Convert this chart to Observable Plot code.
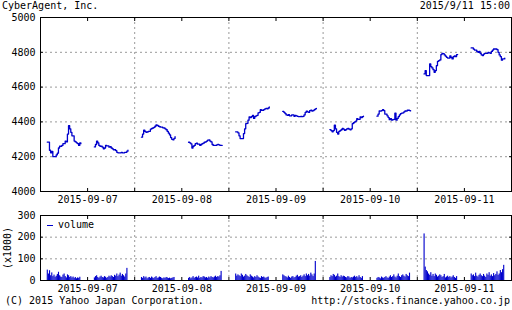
<!DOCTYPE html>
<html><head><meta charset="utf-8">
<script src="https://cdn.jsdelivr.net/npm/d3@7"></script>
<script src="https://cdn.jsdelivr.net/npm/@observablehq/plot@0.6"></script>
<style>
body{margin:0;background:#fff;}
#wrap{position:relative;width:512px;height:310px;font-family:"DejaVu Sans Mono",monospace;font-size:10px;color:#000;overflow:hidden;}
.t{position:absolute;white-space:pre;line-height:12px;}
.pl{position:absolute;left:0;}
</style></head><body>
<div id="wrap">
 <div id="p1" class="pl" style="top:0"></div>
 <div id="p2" class="pl" style="top:206px"></div>
 <div class="t" style="left:2px;top:0px">CyberAgent, Inc.</div>
 <div class="t" style="right:2px;top:0px">2015/9/11 15:00</div>
 <div class="t" style="left:47px;top:219px"><span style="display:inline-block;width:6px;height:1px;background:#0000cc;vertical-align:middle;margin-right:5px"></span>volume</div>
 <div class="t" style="left:5px;top:295px">(C) 2015 Yahoo Japan Corporation.</div>
 <div class="t" style="right:2px;top:295px">http://stocks.finance.yahoo.co.jp</div>
</div>
<script>
// ---- data ----
const dates = ["2015-09-07","2015-09-08","2015-09-09","2015-09-10","2015-09-11"];
const priceTicks = [4000,4200,4400,4600,4800,5000];
const volTicks = [0,100,200,300];
// 5-minute closes, 9:00-11:30 (am) and 12:30-15:00 (pm), 31 points each
const price0907am = [4284,4284,4237,4222,4230,4200,4200,4200,4210,4220,4250,4260,4260,4265,4275,4275,4290,4285,4330,4378,4360,4340,4320,4320,4290,4285,4280,4275,4265,4280,4275];
const price0907pm = [4256,4270,4290,4280,4265,4260,4260,4255,4245,4250,4265,4262,4262,4255,4258,4250,4245,4240,4240,4235,4225,4222,4222,4222,4225,4222,4222,4225,4225,4232,4237];
const price0908am = [4312,4330,4353,4345,4340,4342,4346,4346,4359,4362,4365,4368,4375,4383,4380,4375,4372,4370,4370,4366,4365,4360,4355,4345,4335,4325,4310,4300,4297,4305,4315];
const price0908pm = [4283,4280,4274,4250,4260,4265,4275,4278,4272,4272,4265,4270,4275,4278,4283,4285,4290,4295,4297,4290,4285,4270,4265,4265,4265,4268,4270,4268,4265,4265,4265];
const price0909am = [4343,4343,4337,4320,4304,4304,4304,4333,4360,4390,4392,4410,4429,4425,4430,4438,4420,4430,4435,4438,4452,4455,4470,4467,4467,4470,4475,4477,4475,4480,4486];
const price0909pm = [4460,4455,4448,4440,4438,4442,4435,4435,4440,4440,4432,4438,4435,4432,4430,4430,4432,4430,4432,4440,4455,4462,4458,4455,4465,4467,4462,4465,4470,4475,4478];
const price0910am = [4356,4350,4343,4350,4381,4360,4340,4330,4345,4350,4355,4362,4358,4352,4355,4360,4362,4358,4355,4360,4390,4395,4400,4405,4419,4415,4415,4429,4425,4430,4433];
const price0910pm = [4433,4445,4463,4462,4465,4471,4465,4445,4445,4435,4425,4413,4418,4410,4413,4415,4450,4410,4420,4430,4440,4448,4450,4452,4458,4463,4462,4467,4467,4465,4463];
const price0911am = [4676,4695,4666,4666,4666,4733,4718,4710,4700,4685,4695,4723,4748,4752,4756,4787,4794,4792,4785,4778,4771,4767,4767,4780,4770,4762,4775,4780,4775,4787,4787];
const price0911pm = [4825,4825,4818,4813,4813,4805,4800,4805,4794,4785,4781,4790,4794,4794,4794,4800,4797,4794,4805,4813,4819,4819,4819,4815,4800,4785,4775,4755,4762,4762,4767];
// 5-minute volume (x1000), 30 bars per session
const vol0907am = [48,30,45,22,35,18,25,15,20,28,38,22,16,14,25,30,18,12,26,22,14,18,12,16,10,14,8,12,10,15];
const vol0907pm = [12,18,22,14,10,16,20,14,12,18,15,10,14,20,16,22,18,14,24,20,30,18,25,34,20,28,22,16,30,56];
const vol0908am = [14,10,18,12,16,8,12,14,10,16,12,9,14,18,10,12,16,14,10,8,12,10,14,12,9,11,8,10,12,14];
const vol0908pm = [10,14,8,12,18,10,14,16,12,20,10,14,12,18,16,12,14,10,16,12,18,14,12,16,20,14,18,16,22,42];
const vol0909am = [30,20,26,22,18,30,24,16,20,28,22,18,14,26,20,16,12,18,14,22,16,12,10,18,14,16,12,10,14,16];
const vol0909pm = [26,22,18,16,12,20,14,10,16,18,12,14,20,24,16,18,22,14,20,26,18,30,22,28,20,34,26,18,30,88];
const vol0910am = [14,22,18,28,24,16,20,30,18,14,22,16,20,18,14,12,18,16,10,14,12,16,20,14,18,12,22,14,10,18];
const vol0910pm = [10,14,12,8,16,12,10,14,18,12,10,16,22,14,18,26,16,12,20,30,18,14,22,26,20,16,28,22,18,34];
const vol0911am = [215,62,46,40,30,24,36,20,28,18,30,24,16,20,26,22,14,18,28,12,16,20,14,18,12,16,22,14,10,18];
const vol0911pm = [30,22,26,18,34,20,16,24,30,22,18,28,20,14,30,24,36,20,26,18,32,22,28,40,24,30,46,36,50,70];

const priceSessions = [price0907am,price0907pm,price0908am,price0908pm,price0909am,price0909pm,price0910am,price0910pm,price0911am,price0911pm];
const volSessions = [vol0907am,vol0907pm,vol0908am,vol0908pm,vol0909am,vol0909pm,vol0910am,vol0910pm,vol0911am,vol0911pm];

// x axis: hours, each trading day spans 8:30-15:30 (7 hours)
const step = 5/60;
const sessStart = (k) => Math.floor(k/2)*7 + (k%2 === 0 ? 0.5 : 4);
const priceRows = priceSessions.flatMap((arr,k) => arr.map((v,i) => ({seg:k, t:sessStart(k)+i*step, v})));
const volRows = volSessions.flatMap((arr,k) => arr.map((v,i) => ({t1:sessStart(k)+i*step, t2:sessStart(k)+(i+1)*step, v})));
const halfTicks = d3.range(0, 35.01, 3.5);
const dayMids = dates.map((d,i) => i*7+3.5);
const dayBounds = [7,14,21,28];
const labelOf = (x) => dates[Math.round((x-3.5)/7)];
const plain = (d) => String(d);

const blue = "#0000cc";
const gridStyle = {stroke:"#999", strokeOpacity:1, strokeDasharray:"2,3"};
const style = {fontFamily:"DejaVu Sans Mono, monospace", fontSize:"10px", background:"transparent", color:"#000"};

const p1 = Plot.plot({
  width:512, height:206, marginLeft:40, marginRight:1, marginTop:17, marginBottom:15,
  style,
  x:{domain:[0,35]},
  y:{domain:[4000,5000]},
  marks:[
    Plot.gridY([4200,4400,4600,4800], gridStyle),
    Plot.gridX(dayBounds, gridStyle),
    Plot.line(priceRows, {x:"t", y:"v", z:"seg", stroke:blue, strokeWidth:1.3, curve:"step-after"}),
    Plot.frame({stroke:"#000"}),
    Plot.axisY(priceTicks, {anchor:"left", tickSize:-3, tickPadding:8, tickFormat:plain, label:null}),
    Plot.axisY(priceTicks, {anchor:"right", tickSize:-3, tickFormat:()=>"", label:null}),
    Plot.axisX(halfTicks, {anchor:"top", tickSize:-3, tickFormat:()=>"", label:null}),
    Plot.axisX(halfTicks, {anchor:"bottom", tickSize:-3, tickFormat:()=>"", label:null}),
    Plot.axisX(dayMids, {anchor:"bottom", tickSize:0, tickPadding:4, tickFormat:labelOf, label:null})
  ]
});
document.getElementById("p1").append(p1);

const p2 = Plot.plot({
  width:512, height:92, marginLeft:40, marginRight:1, marginTop:9, marginBottom:18,
  style,
  x:{domain:[0,35]},
  y:{domain:[0,300]},
  marks:[
    Plot.gridY([100,200], gridStyle),
    Plot.gridX(dayBounds, gridStyle),
    Plot.rectY(volRows, {x1:"t1", x2:"t2", y:"v", fill:blue}),
    Plot.frame({stroke:"#000"}),
    Plot.axisY(volTicks, {anchor:"left", tickSize:-3, tickPadding:8, tickFormat:plain, label:"(x1000)", labelAnchor:"center", labelOffset:37, labelArrow:"none"}),
    Plot.axisY(volTicks, {anchor:"right", tickSize:-3, tickFormat:()=>"", label:null}),
    Plot.axisX(halfTicks, {anchor:"top", tickSize:-3, tickFormat:()=>"", label:null}),
    Plot.axisX(halfTicks, {anchor:"bottom", tickSize:-3, tickFormat:()=>"", label:null}),
    Plot.axisX(dayMids, {anchor:"bottom", tickSize:0, tickPadding:4, tickFormat:labelOf, label:null})
  ]
});
document.getElementById("p2").append(p2);
</script>
</body></html>
